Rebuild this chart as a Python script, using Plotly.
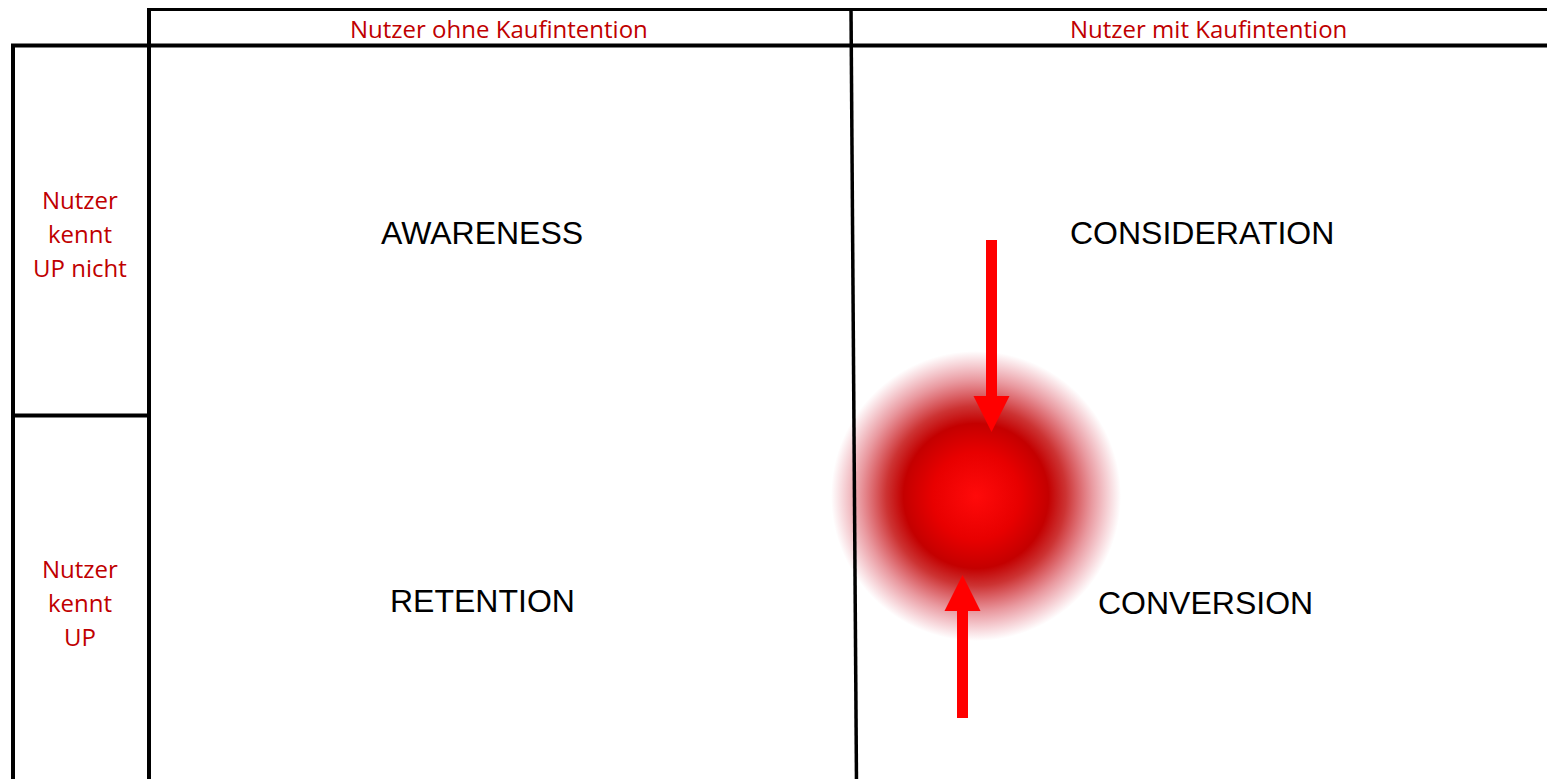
import plotly.graph_objects as go
import urllib.parse

# ---- content ----
column_labels = ["Nutzer ohne Kaufintention", "Nutzer mit Kaufintention"]
row_labels = [["Nutzer", "kennt", "UP nicht"], ["Nutzer", "kennt", "UP"]]
quadrant_labels = ["AWARENESS", "CONSIDERATION", "RETENTION", "CONVERSION"]

W, H = 1547, 779
RED_TXT = "#C00000"

fig = go.Figure()

# invisible trace to establish axes
fig.add_trace(go.Scatter(x=[0, W], y=[0, H], mode="markers",
                         marker=dict(opacity=0), hoverinfo="skip", showlegend=False))

shapes = []
def line(x0, y0, x1, y1, w=3.5):
    shapes.append(dict(type="line", xref="x", yref="y", x0=x0, y0=y0, x1=x1, y1=y1,
                       line=dict(color="black", width=w)))

# grid lines
line(147, 9.5, W + 5, 9.5, 3)          # top line (header)
line(11, 45.5, W + 5, 45.5, 4)         # second horizontal
line(13, 44, 13, H + 5, 4)             # left outer vertical
line(149, 8, 149, H + 5, 4)            # vertical after row labels
line(11, 415.5, 151, 415.5, 4)         # row separator
line(851, 8, 856.5, H + 5, 3.5)        # middle vertical (slightly slanted)

# arrows (shaft + head as polygons)
def arrow(xc, y_tail, y_tip, head_len=36, head_w=36, shaft_w=11, color="#FF0000"):
    d = 1 if y_tip > y_tail else -1
    yb = y_tip - d * head_len
    path = (f"M {xc - shaft_w/2} {y_tail} L {xc + shaft_w/2} {y_tail} "
            f"L {xc + shaft_w/2} {yb} L {xc + head_w/2} {yb} L {xc} {y_tip} "
            f"L {xc - head_w/2} {yb} L {xc - shaft_w/2} {yb} Z")
    shapes.append(dict(type="path", xref="x", yref="y", path=path,
                       fillcolor=color, line=dict(width=0), layer="above"))

arrow(991.5, 240, 432)
arrow(962.5, 718, 575)

# radial-gradient blob as an SVG image
svg = (
    "<svg xmlns='http://www.w3.org/2000/svg' width='300' height='300' viewBox='0 0 300 300'>"
    "<defs><radialGradient id='g' cx='50%' cy='50%' r='50%'>"
    "<stop offset='0' stop-color='#FF0A0A' stop-opacity='1'/>"
    "<stop offset='0.30' stop-color='#E80000' stop-opacity='1'/>"
    "<stop offset='0.50' stop-color='#C40000' stop-opacity='1'/>"
    "<stop offset='0.62' stop-color='#C00000' stop-opacity='0.8'/>"
    "<stop offset='0.80' stop-color='#C80010' stop-opacity='0.4'/>"
    "<stop offset='1' stop-color='#D00020' stop-opacity='0'/>"
    "</radialGradient></defs>"
    "<circle cx='150' cy='150' r='150' fill='url(#g)'/></svg>"
)
src = "data:image/svg+xml;charset=utf-8," + urllib.parse.quote(svg)
blob_cx, blob_cy, blob_r = 976, 496, 145
images = [dict(source=src, xref="x", yref="y", x=blob_cx - blob_r, y=blob_cy - blob_r,
               sizex=2 * blob_r, sizey=2 * blob_r, xanchor="left", yanchor="top",
               sizing="stretch", layer="below")]

annotations = []
hdr_font = dict(family="Open Sans, Noto Sans, sans-serif", size=24, color=RED_TXT)
for lab, xc in zip(column_labels, [499, 1208]):
    annotations.append(dict(text=lab, x=xc, y=28, xref="x", yref="y", showarrow=False,
                            font=hdr_font, xanchor="center", yanchor="middle"))
row_font = dict(family="Open Sans, Noto Sans, sans-serif", size=24, color=RED_TXT)
for lines, yc in zip(row_labels, [233, 602]):
    n = len(lines)
    for i, txt in enumerate(lines):
        annotations.append(dict(text=txt, x=80, y=yc + (i - (n - 1) / 2) * 34,
                                xref="x", yref="y", showarrow=False, font=row_font,
                                xanchor="center", yanchor="middle"))
q_font = dict(family="Liberation Sans, Arial, sans-serif", size=32, color="black")
for lab, (xc, yc) in zip(quadrant_labels, [(482, 233), (1202, 233), (482, 601), (1205, 603)]):
    annotations.append(dict(text=lab, x=xc, y=yc, xref="x", yref="y", showarrow=False,
                            font=q_font, xanchor="center", yanchor="middle"))

fig.update_layout(
    width=W, height=H,
    margin=dict(l=0, r=0, t=0, b=0),
    paper_bgcolor="white", plot_bgcolor="white",
    xaxis=dict(range=[0, W], visible=False, fixedrange=True),
    yaxis=dict(range=[H, 0], visible=False, fixedrange=True),
    shapes=shapes, images=images, annotations=annotations,
    showlegend=False,
)

fig.write_html("out.html", config={"displayModeBar": False},
               post_script="document.body.style.margin='0';document.body.style.overflow='hidden';")
